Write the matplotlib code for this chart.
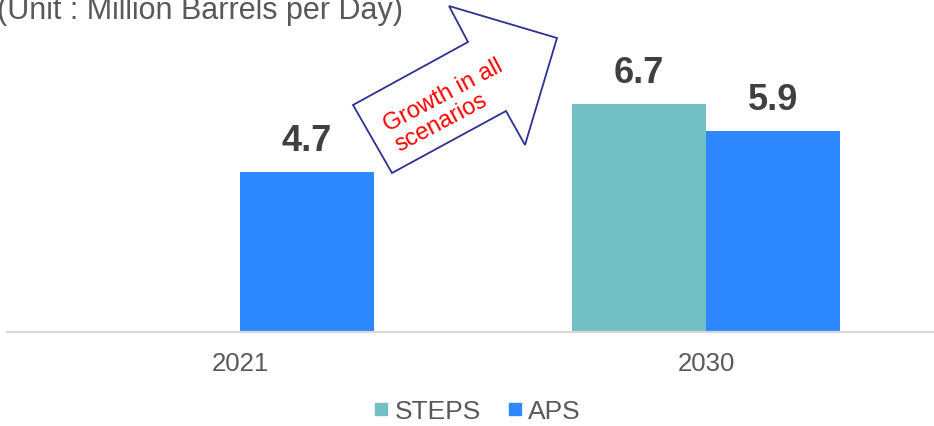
import numpy as np
import matplotlib
matplotlib.use("Agg")
import matplotlib.pyplot as plt
from matplotlib.patches import Polygon
from matplotlib.lines import Line2D

plt.rcParams['font.family'] = ['Liberation Sans', 'DejaVu Sans']

categories = ["2021", "2030"]
series_names = ["STEPS", "APS"]
steps_values = [np.nan, 6.7]
aps_values = [4.7, 5.9]
value_labels_steps = ["", "6.7"]
value_labels_aps = ["4.7", "5.9"]
title_text = "(Unit : Million Barrels per Day)"
arrow_text = "Growth in all\nscenarios"

W, H = 934, 427
fig = plt.figure(figsize=(W / 100, H / 100), dpi=100)
ax = fig.add_axes([7 / W, (H - 333) / H, 932 / W, 333 / H])

c_steps = "#72BFC4"
c_aps = "#2E88FF"
x = np.arange(len(categories))
w = 134 / 466

ax.bar(x - w / 2, steps_values, width=w, color=c_steps, zorder=2)
ax.bar(x + w / 2, aps_values, width=w, color=c_aps, zorder=2)

for xi, v, lab in zip(x - w / 2, steps_values, value_labels_steps):
    if lab:
        ax.annotate(lab, (xi, v), xytext=(0, 10), textcoords="offset points",
                    ha="center", va="bottom", fontsize=26, fontweight="bold", color="#404040")
for xi, v, lab in zip(x + w / 2, aps_values, value_labels_aps):
    if lab:
        ax.annotate(lab, (xi, v), xytext=(0, 10), textcoords="offset points",
                    ha="center", va="bottom", fontsize=26, fontweight="bold", color="#404040")

ax.set_xlim(-0.5, 1.5)
ax.set_ylim(0, 333 / 34.1)
ax.set_xticks(x)
ax.set_xticklabels(categories, fontsize=18.5, color="#595959")
ax.tick_params(axis="x", length=0, pad=14)
ax.set_yticks([])
for s in ["left", "right", "top"]:
    ax.spines[s].set_visible(False)
ax.spines["bottom"].set_color("#D9D9D9")
ax.spines["bottom"].set_linewidth(1.6)
ax.patch.set_alpha(0)

# Title
fig.text(-3 / W, 1 - 11 / H, title_text, fontsize=22, color="#595959", ha="left", va="center")

# Arrow shape (figure pixel coordinates, y measured from top)
pts = [(353, 106), (392, 174), (506, 112), (525, 146), (557, 39), (449, 7), (468, 43)]
pts_fig = [(px / W, 1 - py / H) for px, py in pts]
arrow = Polygon(pts_fig, closed=True, transform=fig.transFigure, facecolor="white",
                edgecolor="#2E3192", linewidth=1.3, zorder=5)
fig.patches.append(arrow)
fig.text(449 / W, 1 - 106 / H, arrow_text, fontsize=17, color="#FF0000", rotation=28,
         rotation_mode="anchor", ha="center", va="center", multialignment="left",
         zorder=6, linespacing=1.05)

# Legend
handles = [Line2D([], [], linestyle="none", marker="s", markersize=8, color=c_steps),
           Line2D([], [], linestyle="none", marker="s", markersize=8, color=c_aps)]
fig.legend(handles, series_names, loc="center", bbox_to_anchor=(477 / W, 1 - 412 / H),
           ncol=2, frameon=False, fontsize=19, handlelength=0.6, handletextpad=0.2,
           columnspacing=1.0, borderaxespad=0, borderpad=0,
           labelcolor="#595959")

fig.savefig("out.png", dpi=100)
